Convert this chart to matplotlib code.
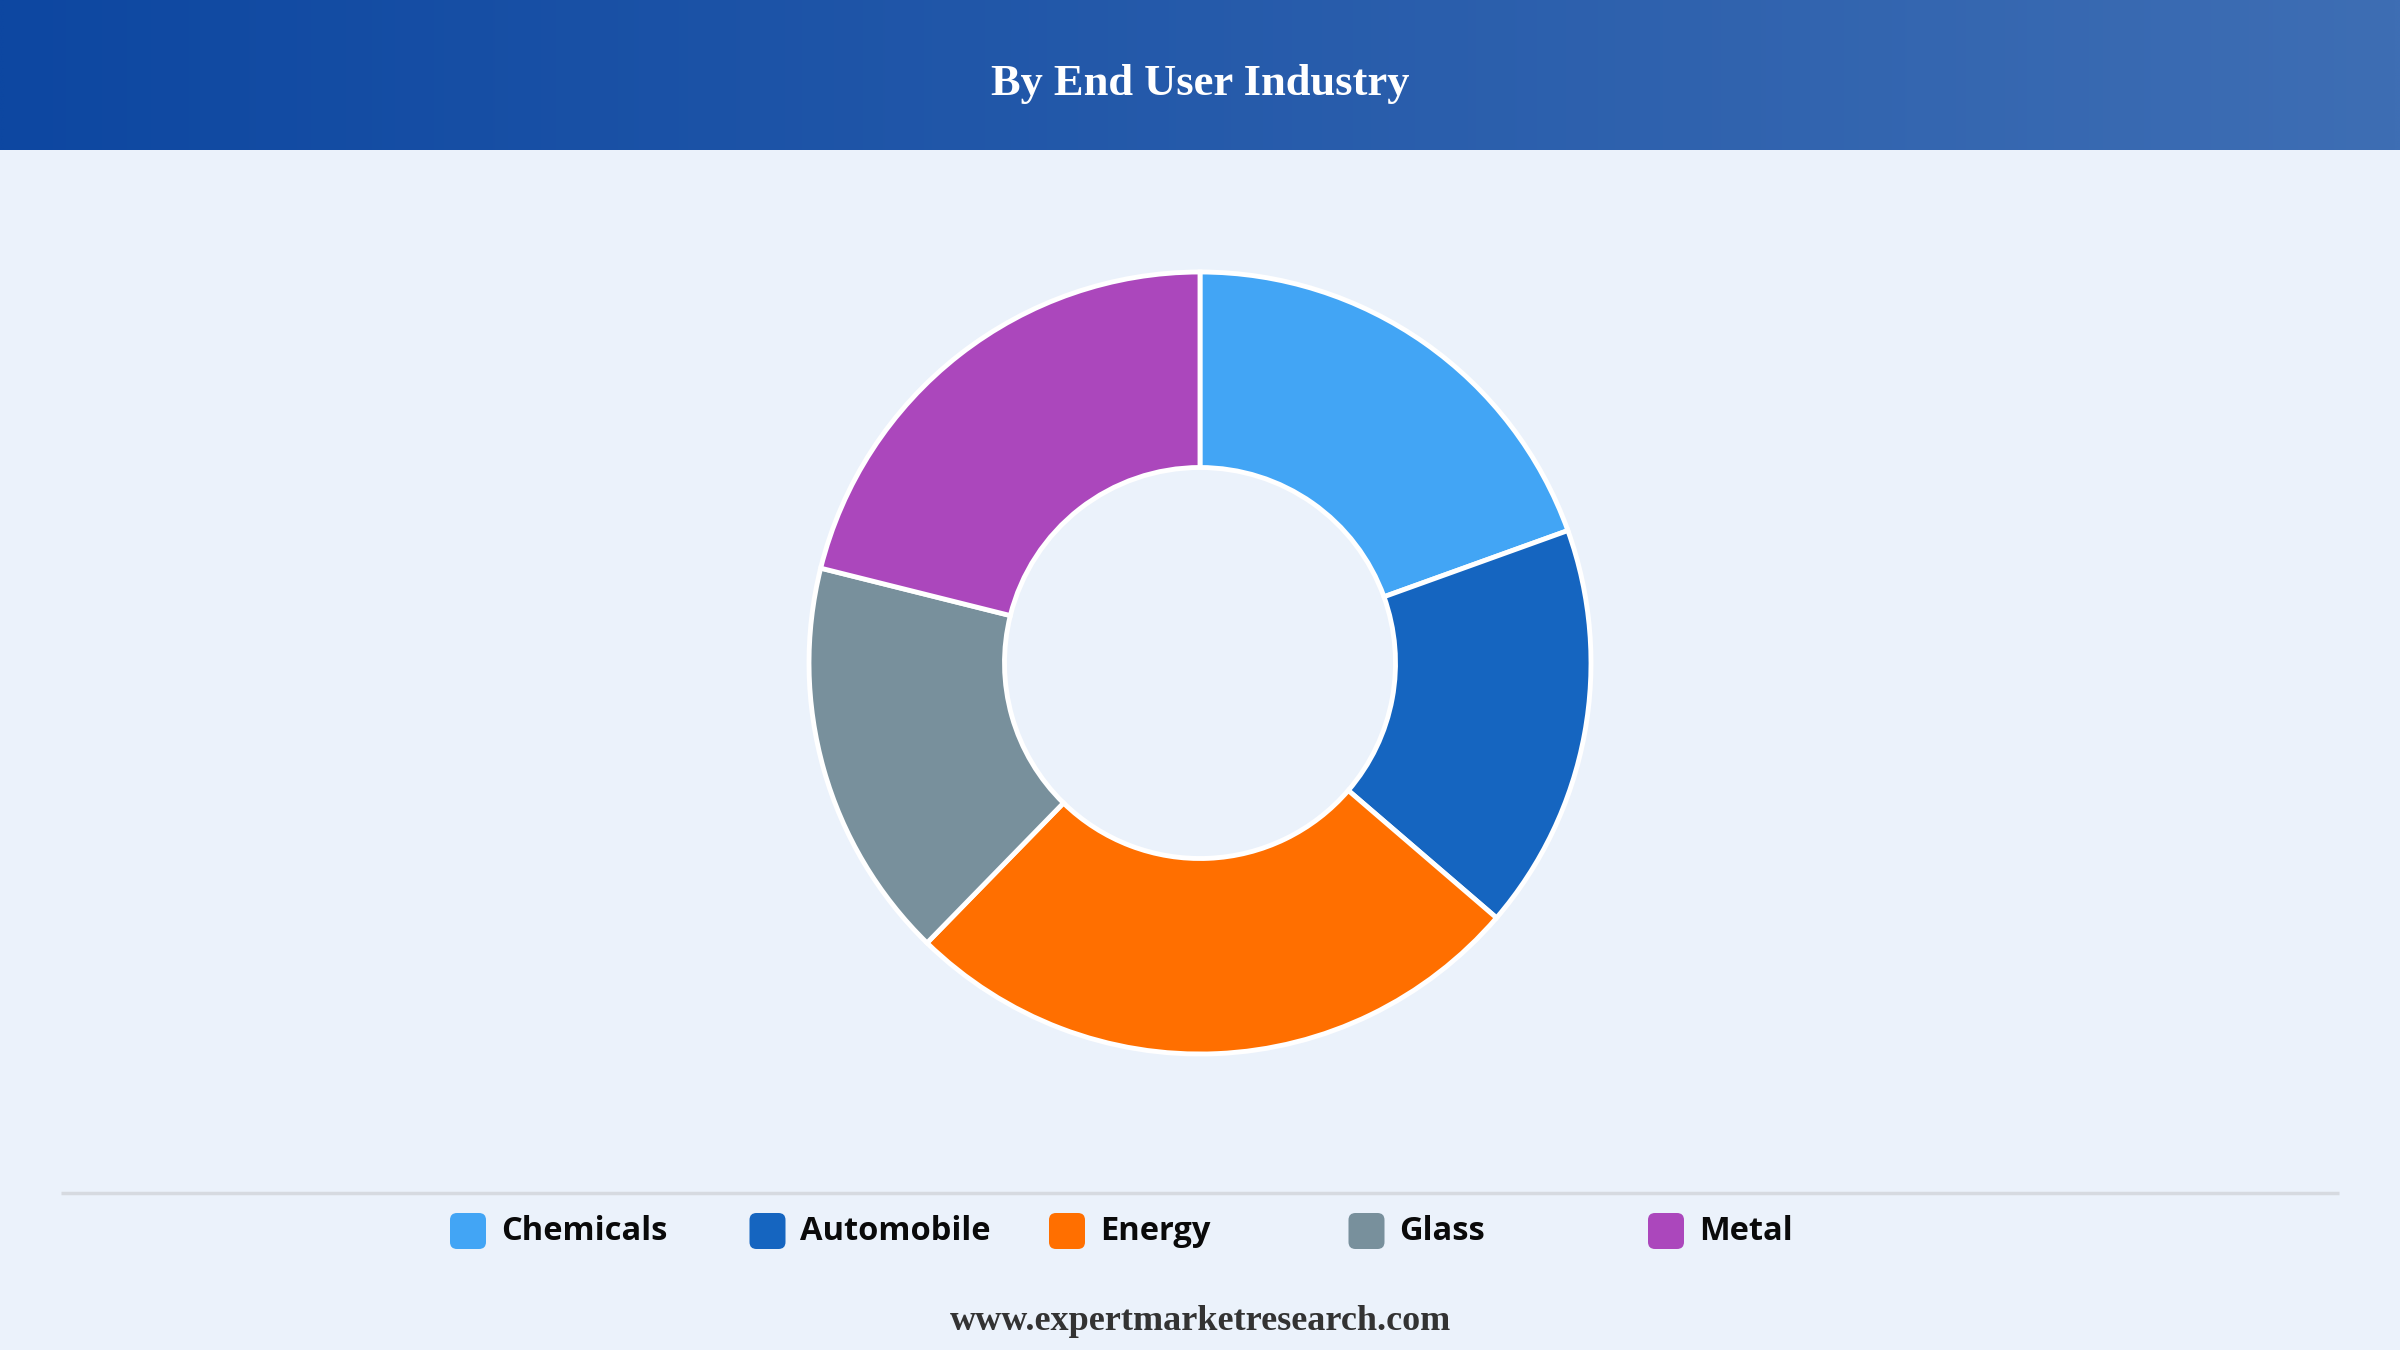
import matplotlib.pyplot as plt
import numpy as np
from matplotlib.patches import FancyBboxPatch

# data
categories = ["Chemicals", "Automobile", "Energy", "Glass", "Metal"]
shares = [19.5, 16.8, 26.0, 16.6, 21.1]
colors = ["#42A5F5", "#1565C0", "#FF6F00", "#78909C", "#AB47BC"]
title = "By End User Industry"
footer = "www.expertmarketresearch.com"

W, H = 2400, 1350
fig = plt.figure(figsize=(24, 13.5), dpi=100)
fig.patch.set_facecolor("#EBF2FB")

# background layer in pixel coords
bg = fig.add_axes([0, 0, 1, 1])
bg.set_xlim(0, W)
bg.set_ylim(H, 0)
bg.axis("off")

# header gradient
left = np.array([13, 71, 161]) / 255
right = np.array([62, 110, 180]) / 255
t = np.linspace(0, 1, 256)
grad = (left[None, :] * (1 - t[:, None]) + right[None, :] * t[:, None])[None, :, :]
bg.imshow(grad, extent=[0, W, 150, 0], aspect="auto", interpolation="bilinear")
bg.text(W / 2, 84, title, color="white", fontsize=32, fontweight="bold",
        family="Liberation Serif", ha="center", va="center")

# separator
bg.plot([61, 2339], [1193, 1193], color="#D6DAE0", lw=2.5, solid_capstyle="butt")

# legend
for i, (name, col) in enumerate(zip(categories, colors)):
    x0 = 450 + 299.5 * i
    box = FancyBboxPatch((x0 + 5, 1218), 26, 26, boxstyle="round,pad=5,rounding_size=7",
                         fc=col, ec="none")
    bg.add_patch(box)
    bg.text(x0 + 51, 1232, name, fontsize=23.5, fontweight="bold", family="Open Sans",
            color="#0A0A0A", ha="left", va="center")

bg.text(W / 2, 1322, footer, color="#333333", fontsize=26, fontweight="bold",
        family="Liberation Serif", ha="center", va="center")

# donut
R = 391
ax = fig.add_axes([(1200 - R) / W, (H - 663 - R) / H, 2 * R / W, 2 * R / H])
ax.pie(shares, colors=colors, radius=1, startangle=90, counterclock=False,
       wedgeprops=dict(width=0.5, edgecolor="white", linewidth=3.5))
ax.set_xlim(-1, 1)
ax.set_ylim(-1, 1)
ax.set_aspect("equal")
ax.axis("off")

fig.savefig("out.png", dpi=100, facecolor=fig.get_facecolor())
